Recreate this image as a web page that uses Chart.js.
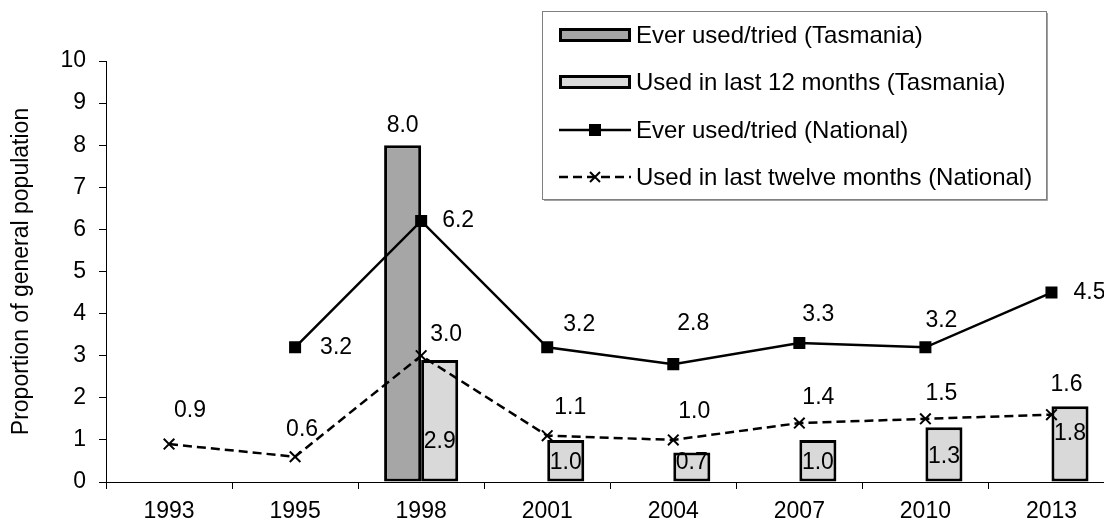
<!DOCTYPE html>
<html>
<head>
<meta charset="utf-8">
<script src="https://cdn.jsdelivr.net/npm/chart.js@4/dist/chart.umd.min.js"></script>
<style>
  html, body { margin: 0; padding: 0; background: #fff; overflow: hidden; }
  #wrap { width: 1124px; height: 523px; position: relative; }
</style>
</head>
<body>
<div id="wrap"><canvas id="c" width="1124" height="523"></canvas></div>
<script>
// ---- data ----
const categories = ['1993', '1995', '1998', '2001', '2004', '2007', '2010', '2013'];
const everTasmania = [null, null, 8.0, null, null, null, null, null];
const last12Tasmania = [null, null, 2.9, 1.0, 0.7, 1.0, 1.3, 1.8];
const everNational = [null, 3.2, 6.2, 3.2, 2.8, 3.3, 3.2, 4.5];
const last12National = [0.9, 0.6, 3.0, 1.1, 1.0, 1.4, 1.5, 1.6];
const seriesNames = [
  'Ever used/tried (Tasmania)',
  'Used in last 12 months (Tasmania)',
  'Ever used/tried (National)',
  'Used in last twelve months (National)'
];
const yAxisTitle = 'Proportion of general population';

// ---- styling ----
const FAMILY = '"Liberation Sans", Arial, sans-serif';
const FSIZE = 23;
const FONT = FSIZE + 'px ' + FAMILY;
const LEGEND_FONT = '24px ' + FAMILY;

// label offsets (pixels) relative to each mark's anchor
const labelOffsets = [
  categories.map(() => [0, -20]),
  [[0,0],[0,0],[0,82],[0,23],[0,10],[0,23],[0,29],[0,27]],
  [[0,0],[41,0],[37,0],[32,-23],[20,-40],[19,-28],[16,-27],[38,0]],
  [[21,-33],[7,-27],[25,-21],[23,-28],[21,-28],[19,-25],[16,-25],[15,-30]]
];

const valueLabels = {
  id: 'valueLabels',
  afterDatasetsDraw(chart) {
    const ctx = chart.ctx;
    ctx.save();
    ctx.font = FONT;
    ctx.fillStyle = '#000';
    ctx.textAlign = 'center';
    ctx.textBaseline = 'middle';
    chart.data.datasets.forEach((ds, di) => {
      const meta = chart.getDatasetMeta(di);
      meta.data.forEach((el, i) => {
        const v = ds.data[i];
        if (v === null || v === undefined) return;
        const off = labelOffsets[di][i];
        ctx.fillText(v.toFixed(1), el.x + off[0], el.y + off[1]);
      });
    });
    ctx.restore();
  }
};

const customLegend = {
  id: 'customLegend',
  afterDraw(chart) {
    const ctx = chart.ctx;
    const bx = 542, by = 11, bw = 504, bh = 188;
    ctx.save();
    ctx.fillStyle = '#fff';
    ctx.fillRect(bx, by, bw, bh);
    ctx.strokeStyle = '#808080';
    ctx.lineWidth = 1;
    ctx.strokeRect(bx + 0.5, by + 0.5, bw, bh);
    ctx.beginPath();
    ctx.moveTo(bx + bw + 1.5, by + 2); ctx.lineTo(bx + bw + 1.5, by + bh + 1.5);
    ctx.lineTo(bx + 2, by + bh + 1.5);
    ctx.strokeStyle = '#a0a0a0';
    ctx.stroke();
    const rows = [35, 82, 130, 177];
    const sx0 = 559, sx1 = 631, sxm = 595;
    ctx.font = LEGEND_FONT;
    ctx.textAlign = 'left';
    ctx.textBaseline = 'middle';
    chart.data.datasets.forEach((ds, di) => {
      const y = rows[di];
      if (ds.type === 'bar') {
        ctx.fillStyle = ds.backgroundColor;
        ctx.fillRect(sx0, y - 7, sx1 - sx0, 14);
        ctx.strokeStyle = '#000';
        ctx.lineWidth = 3;
        ctx.strokeRect(sx0 + 1.5, y - 5.5, sx1 - sx0 - 3, 11);
      } else {
        ctx.strokeStyle = '#000';
        ctx.lineWidth = 2.5;
        ctx.setLineDash(ds.borderDash || []);
        ctx.beginPath();
        ctx.moveTo(sx0, y); ctx.lineTo(sx1, y);
        ctx.stroke();
        ctx.setLineDash([]);
        if (ds.pointStyle === 'rect') {
          ctx.fillStyle = '#000';
          ctx.fillRect(sxm - 6, y - 6, 12, 12);
        } else {
          ctx.lineWidth = 2;
          ctx.beginPath();
          ctx.moveTo(sxm - 5, y - 5); ctx.lineTo(sxm + 5, y + 5);
          ctx.moveTo(sxm - 5, y + 5); ctx.lineTo(sxm + 5, y - 5);
          ctx.stroke();
        }
      }
      ctx.fillStyle = '#000';
      ctx.fillText(ds.label, 636, y + 1);
    });
    ctx.restore();
  }
};

new Chart(document.getElementById('c'), {
  type: 'bar',
  data: {
    labels: categories,
    datasets: [
      {
        type: 'bar', label: seriesNames[0], data: everTasmania,
        backgroundColor: '#A6A6A6', borderColor: '#000', borderWidth: 3,
        borderSkipped: false, order: 1,
        categoryPercentage: 0.588, barPercentage: 1.0
      },
      {
        type: 'bar', label: seriesNames[1], data: last12Tasmania,
        backgroundColor: '#D9D9D9', borderColor: '#000', borderWidth: 3,
        borderSkipped: false, order: 1,
        categoryPercentage: 0.588, barPercentage: 1.0
      },
      {
        type: 'line', label: seriesNames[2], data: everNational,
        borderColor: '#000', borderWidth: 2.5, tension: 0, fill: false,
        pointStyle: 'rect', pointRadius: 8.5, pointBackgroundColor: '#000',
        pointBorderColor: '#000', pointBorderWidth: 0, order: 0, spanGaps: true
      },
      {
        type: 'line', label: seriesNames[3], data: last12National,
        borderColor: '#000', borderWidth: 2.5, borderDash: [9, 5], tension: 0, fill: false,
        pointStyle: 'crossRot', pointRadius: 7.5, pointBorderColor: '#000',
        pointBorderWidth: 2, order: 0, spanGaps: true
      }
    ]
  },
  options: {
    responsive: false,
    animation: false,
    layout: { padding: { top: 61, left: 0, right: 3, bottom: 0 } },
    plugins: {
      legend: { display: false },
      tooltip: { enabled: false }
    },
    scales: {
      x: {
        type: 'category',
        offset: true,
        grid: { display: true, offset: true, drawOnChartArea: false, drawTicks: true, tickLength: 7, color: '#000', lineWidth: 1 },
        border: { display: true, color: '#000', width: 1 },
        ticks: { color: '#000', font: { family: FAMILY, size: FSIZE }, padding: 9, maxRotation: 0, autoSkip: false },
        afterFit(s) { s.height = 41; }
      },
      y: {
        min: 0, max: 10,
        grid: { display: true, drawOnChartArea: false, drawTicks: true, tickLength: 7, color: '#000', lineWidth: 1 },
        border: { display: true, color: '#000', width: 1 },
        ticks: { stepSize: 1, color: '#000', font: { family: FAMILY, size: FSIZE }, padding: 13 },
        title: { display: true, text: yAxisTitle, color: '#000', font: { family: FAMILY, size: FSIZE }, padding: { top: 8, bottom: 0 } },
        afterFit(s) { s.width = 106; }
      }
    }
  },
  plugins: [valueLabels, customLegend]
});
</script>
</body>
</html>
